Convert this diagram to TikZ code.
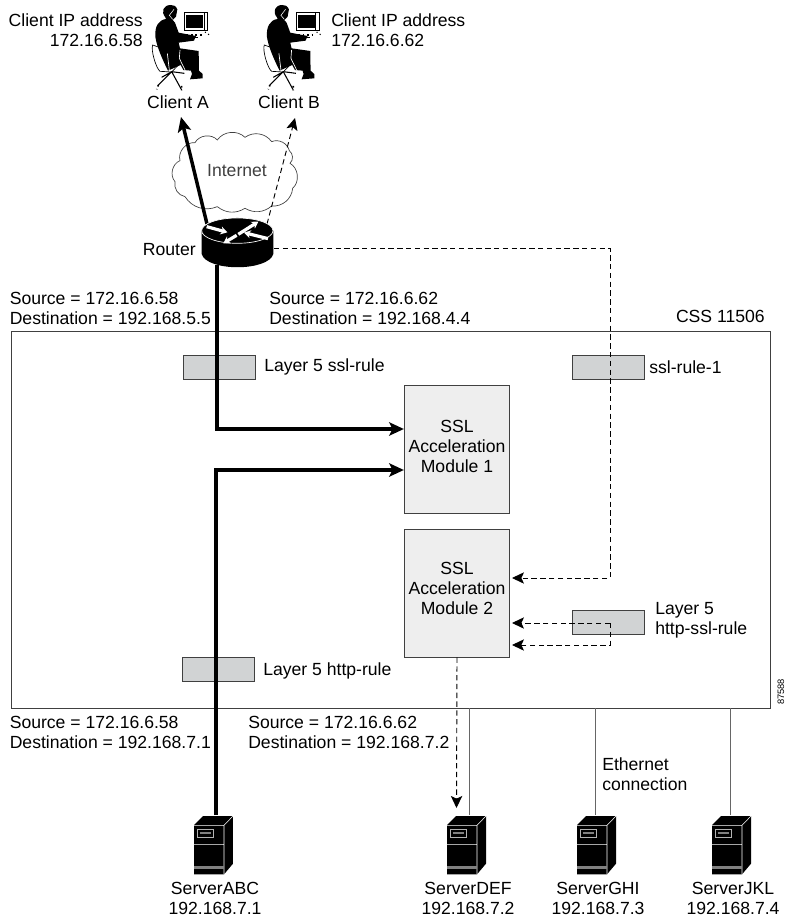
\documentclass[tikz,border=0pt]{standalone}
\usepackage{fontspec}
\setmainfont{Liberation Sans}
\usetikzlibrary{arrows.meta}
\definecolor{modfill}{HTML}{EEEEEE}
\definecolor{rulefill}{HTML}{D1D3D4}
\definecolor{edge}{HTML}{404040}
\tikzset{
  lbl/.style={inner sep=0pt, align=left, font=\fontsize{13.2}{15}\selectfont},
  lblr/.style={lbl, align=right},
  lblc/.style={lbl, align=center},
  module/.style={draw=edge, line width=0.7pt, fill=modfill, inner sep=0pt,
    minimum width=79pt, minimum height=96pt},
  rulebox/.style={draw=edge, line width=0.6pt, fill=rulefill, inner sep=0pt,
    minimum width=54pt, minimum height=18.5pt},
  thickline/.style={line width=2.6pt, -{Stealth[length=11pt,width=10pt,inset=2.5pt]}},
  dashline/.style={line width=0.7pt, dash pattern=on 4pt off 2.6pt, -{Stealth[length=9pt,width=8.5pt,inset=2pt]}},
  thinline/.style={line width=0.7pt, black!60},
  server/.pic={
    \fill[black] (0,27) -- (27,0) -- (117,0) -- (117,143) -- (90,175) -- (0,175) -- cycle;
    \draw[white, line width=0.4pt] (0,28) -- (90,28) -- (117,0) (90,28) -- (90,175) (0,85) -- (90,85);
    \fill[gray] (0,151) rectangle (90,160);
    \draw[white!70!black, line width=0.5pt] (9,40) rectangle (59,63);
    \draw[gray, line width=1pt] (17,51) -- (50,51);
  },
  person/.pic={
    \draw[line width=0.5pt, fill=white] (68,135) .. controls (62,150) and (78,205) .. (90,214) -- (125,216) -- (150,190) -- (110,150) -- cycle;
    \fill[black] (122,15) .. controls (100,15) and (92,35) .. (106,52) -- (108,57)
      .. controls (85,60) and (74,80) .. (76,110) .. controls (80,140) and (98,180) .. (114,212)
      -- (152,195) -- (160,210) -- (183,212) -- (186,222) -- (180,238) -- (218,235) -- (218,222)
      -- (207,212) -- (206,153) -- (150,145) -- (146,128) -- (192,122) -- (198,108) -- (146,98) -- (135,68)
      -- (128,60) -- (138,50) -- (142,28) .. controls (138,18) and (130,14) .. (122,15) -- cycle;
    \draw[white, line width=0.4pt] (132,28) -- (118,46) -- (128,58);
    \draw[white, line width=0.5pt] (150,150) -- (148,175) -- (165,210) (118,210) -- (112,160);
    \draw[line width=0.8pt] (125,215) -- (85,255) (125,215) -- (155,270) (125,215) -- (163,220) (125,215) -- (95,232);
    \draw[line width=1.2pt, dotted] (85,255) -- (80,268) (155,258) -- (155,272);
    \draw[line width=0.5pt, fill=white] (164,36) -- (232,36) -- (232,92) -- (164,92) -- cycle;
    \fill[black] (168,46) rectangle (220,85);
    \draw[line width=0.5pt] (222,40) -- (222,90);
    \draw[line width=1.4pt, dotted] (142,106) -- (215,106);
    \draw[line width=0.5pt] (150,113) -- (205,113);
    \draw[line width=0.8pt, dotted] (225,96) -- (243,108);
  },
  routerpic/.pic={
    \fill[black] (215,692) -- (215,762) .. controls (230,815) and (415,815) .. (430,762) -- (430,692) -- cycle;
    \draw[draw=white, fill=black, line width=0.5pt] (322,692) ellipse (107 and 38);
    \draw[white, line width=2.4pt, -{Stealth[length=5pt,width=6pt]}] (230,680) -- (292,697);
    \draw[white, line width=2.4pt, -{Stealth[length=5pt,width=6pt]}] (325,703) -- (385,665);
    \draw[white, line width=2.4pt, -{Stealth[length=5pt,width=6pt]}] (320,706) -- (280,730);
    \draw[white, line width=2.4pt, -{Stealth[length=5pt,width=6pt]}] (414,716) -- (342,698);
  },
  cloudpic/.pic={
    \draw[line width=0.5pt, edge, fill=white] (150,482) to[bend left=55] (195,428) to[bend left=55] (262,420)
      to[bend left=50] (345,412) to[bend left=45] (425,425) to[bend left=50] (478,452)
      to[bend left=50] (480,490) to[bend left=55] (488,565) to[bend left=45] (425,618)
      to[bend left=35] (345,625) to[bend left=35] (262,620) to[bend left=40] (165,590)
      to[bend left=45] (135,545) to[bend left=55] cycle;
  }
}
\begin{document}
\begin{tikzpicture}[x=0.75pt, y=-0.75pt]
  \useasboundingbox (0,0) rectangle (786,917);
  \fill[white] (0,0) rectangle (786,917);

  \node[draw=edge, line width=0.6pt, minimum width=569.25pt, minimum height=282.75pt, inner sep=0pt] (css) at (390.5,519.5) {};

  \pic[scale=0.3333] at (130,0) {person};
  \pic[scale=0.3333] at (241.6,0) {person};
  \pic[scale=0.3333] at (130,0) {cloudpic};
  \pic[scale=0.3333] at (194,816) {server};
  \pic[scale=0.3333] at (447,816) {server};
  \pic[scale=0.3333] at (577,816) {server};
  \pic[scale=0.3333] at (712,816) {server};

  \coordinate (routerbot) at (217,265);
  \coordinate (routerleft) at (207,224);
  \coordinate (routerright) at (267,224);
  \coordinate (routereast) at (274,248);
  \coordinate (clientatip) at (181,117);
  \coordinate (clientbtip) at (295,118);
  \coordinate (abctop) at (216,815);
  \coordinate (deftop) at (469.5,815);
  \coordinate (ghitop) at (595,815);
  \coordinate (jkltop) at (730,815);
  \coordinate (deftip) at (456.5,808);

  \node[rulebox] (sslrule) at (219.5,367.5) {};
  \node[rulebox] (sslruleone) at (608,367.5) {};
  \node[rulebox] (httpsslrule) at (608,622.5) {};
  \node[rulebox] (httprule) at (218,669.5) {};
  \node[module] (modone) at (457,449) {};
  \node[module] (modtwo) at (457,593) {};
  \node[lblc] (modonename) at (457,446) {SSL\\Acceleration\\Module 1};
  \node[lblc] (modtwoname) at (457,588) {SSL\\Acceleration\\Module 2};

  \draw[thickline] (routerleft) -- (clientatip);
  \draw[dashline] (routerright) -- (clientbtip);
  \pic[scale=0.3333] at (130,0) {routerpic};
  \draw[thickline] (routerbot) -- (217,429) -- (modone.west |- 0,429);
  \draw[thickline] (abctop) -- (216,470) -- (modone.west |- 0,470);
  \draw[dashline] (routereast) -- (610,248) -- (610,578) -- (512,578);
  \draw[dashline] (610,623) -- (512,623);
  \draw[dashline] (610,623) -- (610,645) -- (512,645);
  \draw[dashline] (modtwo.south) -- (deftip);
  \draw[thinline] (css.south -| deftop) -- (deftop);
  \draw[thinline] (css.south -| ghitop) -- (ghitop);
  \draw[thinline] (css.south -| jkltop) -- (jkltop);

  \node[lblr, anchor=east] (ipa) at (143,30) {Client IP address\\172.16.6.58};
  \node[lbl, anchor=west] (ipb) at (331,30) {Client IP address\\172.16.6.62};
  \node[lblc] (clienta) at (178,102) {Client A};
  \node[lblc] (clientb) at (289,102) {Client B};
  \node[lblc, text=edge] (internet) at (237,171) {Internet};
  \node[lblr, anchor=east] (router) at (196,250) {Router};
  \node[lbl, anchor=west] (srca) at (9.5,308) {Source = 172.16.6.58\\Destination = 192.168.5.5};
  \node[lbl, anchor=west] (srcb) at (269,308) {Source = 172.16.6.62\\Destination = 192.168.4.4};
  \node[lblr, anchor=east] (cssname) at (765,316) {CSS 11506};
  \node[lbl, anchor=west] (sslrulename) at (264,367) {Layer 5 ssl-rule};
  \node[lbl, anchor=west] (sslruleonename) at (649,367) {ssl-rule-1};
  \node[lbl, anchor=west] (httpsslname) at (655,620) {Layer 5\\http-ssl-rule};
  \node[lbl, anchor=west] (httprulename) at (263,671) {Layer 5 http-rule};
  \node[lbl, anchor=west] (srcc) at (9.5,732) {Source = 172.16.6.58\\Destination = 192.168.7.1};
  \node[lbl, anchor=west] (srcd) at (248,732) {Source = 172.16.6.62\\Destination = 192.168.7.2};
  \node[lbl, anchor=west] (ether) at (602,774) {Ethernet\\connection};
  \node[lblc] (abc) at (215,898) {ServerABC\\192.168.7.1};
  \node[lblc] (def) at (468,898) {ServerDEF\\192.168.7.2};
  \node[lblc] (ghi) at (598,898) {ServerGHI\\192.168.7.3};
  \node[lblc] (jkl) at (733,898) {ServerJKL\\192.168.7.4};
  \node[inner sep=0pt, rotate=90, font=\fontsize{7}{8}\selectfont] (figno) at (781,692) {87588};
\end{tikzpicture}
\end{document}
